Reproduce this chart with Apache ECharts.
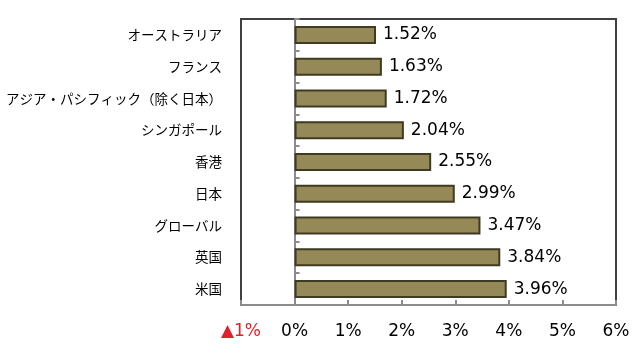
<!DOCTYPE html>
<html>
<head>
<meta charset="utf-8">
<script src="https://cdn.jsdelivr.net/npm/echarts@6/dist/echarts.min.js"></script>
<style>
  html, body { margin: 0; padding: 0; background: #fff; }
  #chart { width: 640px; height: 351px; }
</style>
</head>
<body>
<div id="chart"></div>
<script>
// 地域
var categories = ['オーストラリア', 'フランス', 'アジア・パシフィック（除く日本）', 'シンガポール', '香港', '日本', 'グローバル', '英国', '米国'];
// 利回り(%)
var values = [1.52, 1.63, 1.72, 2.04, 2.55, 2.99, 3.47, 3.84, 3.96];
// 目盛り
var xTicks = [-1, 0, 1, 2, 3, 4, 5, 6];

var chart = echarts.init(document.getElementById('chart'));
var numFont = 'DejaVu Sans, Verdana, sans-serif';

var option = {
    animation: false,
    grid: {
        left: 241,
        right: 24,
        top: 19,
        bottom: 46,
        outerBoundsMode: 'none',
        containLabel: false,
        show: true,
        borderColor: '#404040',
        borderWidth: 2
    },
    xAxis: {
        type: 'value',
        min: xTicks[0],
        max: xTicks[xTicks.length - 1],
        interval: 1,
        axisLine: { show: true, lineStyle: { color: '#8c8c8c', width: 2 } },
        axisTick: { show: true, inside: true, length: 5, lineStyle: { color: '#8c8c8c', width: 2 } },
        splitLine: { show: false },
        axisLabel: {
            margin: 18,
            fontSize: 17,
            fontFamily: numFont,
            color: '#000',
            formatter: function (v) {
                if (v < 0) {
                    return '{neg|▲' + Math.abs(v) + '%}';
                }
                return v + '%';
            },
            rich: {
                neg: { color: '#e0202a', fontSize: 17, fontFamily: numFont }
            }
        }
    },
    yAxis: {
        type: 'category',
        inverse: true,
        data: categories,
        axisLine: { show: true, onZero: true, lineStyle: { color: '#8c8c8c', width: 2 } },
        axisTick: { show: true, inside: true, length: 5, lineStyle: { color: '#8c8c8c', width: 2 } },
        axisLabel: {
            margin: 19,
            fontSize: 13.5,
            fontFamily: 'Noto Sans CJK JP',
            color: '#000'
        }
    },
    series: [
        {
            type: 'bar',
            data: values,
            barWidth: 18,
            itemStyle: {
                color: '#958a57',
                borderColor: '#3f3a22',
                borderWidth: 2
            },
            label: {
                show: true,
                position: 'right',
                distance: 7,
                fontSize: 17,
                fontFamily: numFont,
                color: '#000',
                formatter: function (p) {
                    return p.value.toFixed(2) + '%';
                }
            }
        }
    ]
};
chart.setOption(option);
</script>
</body>
</html>
